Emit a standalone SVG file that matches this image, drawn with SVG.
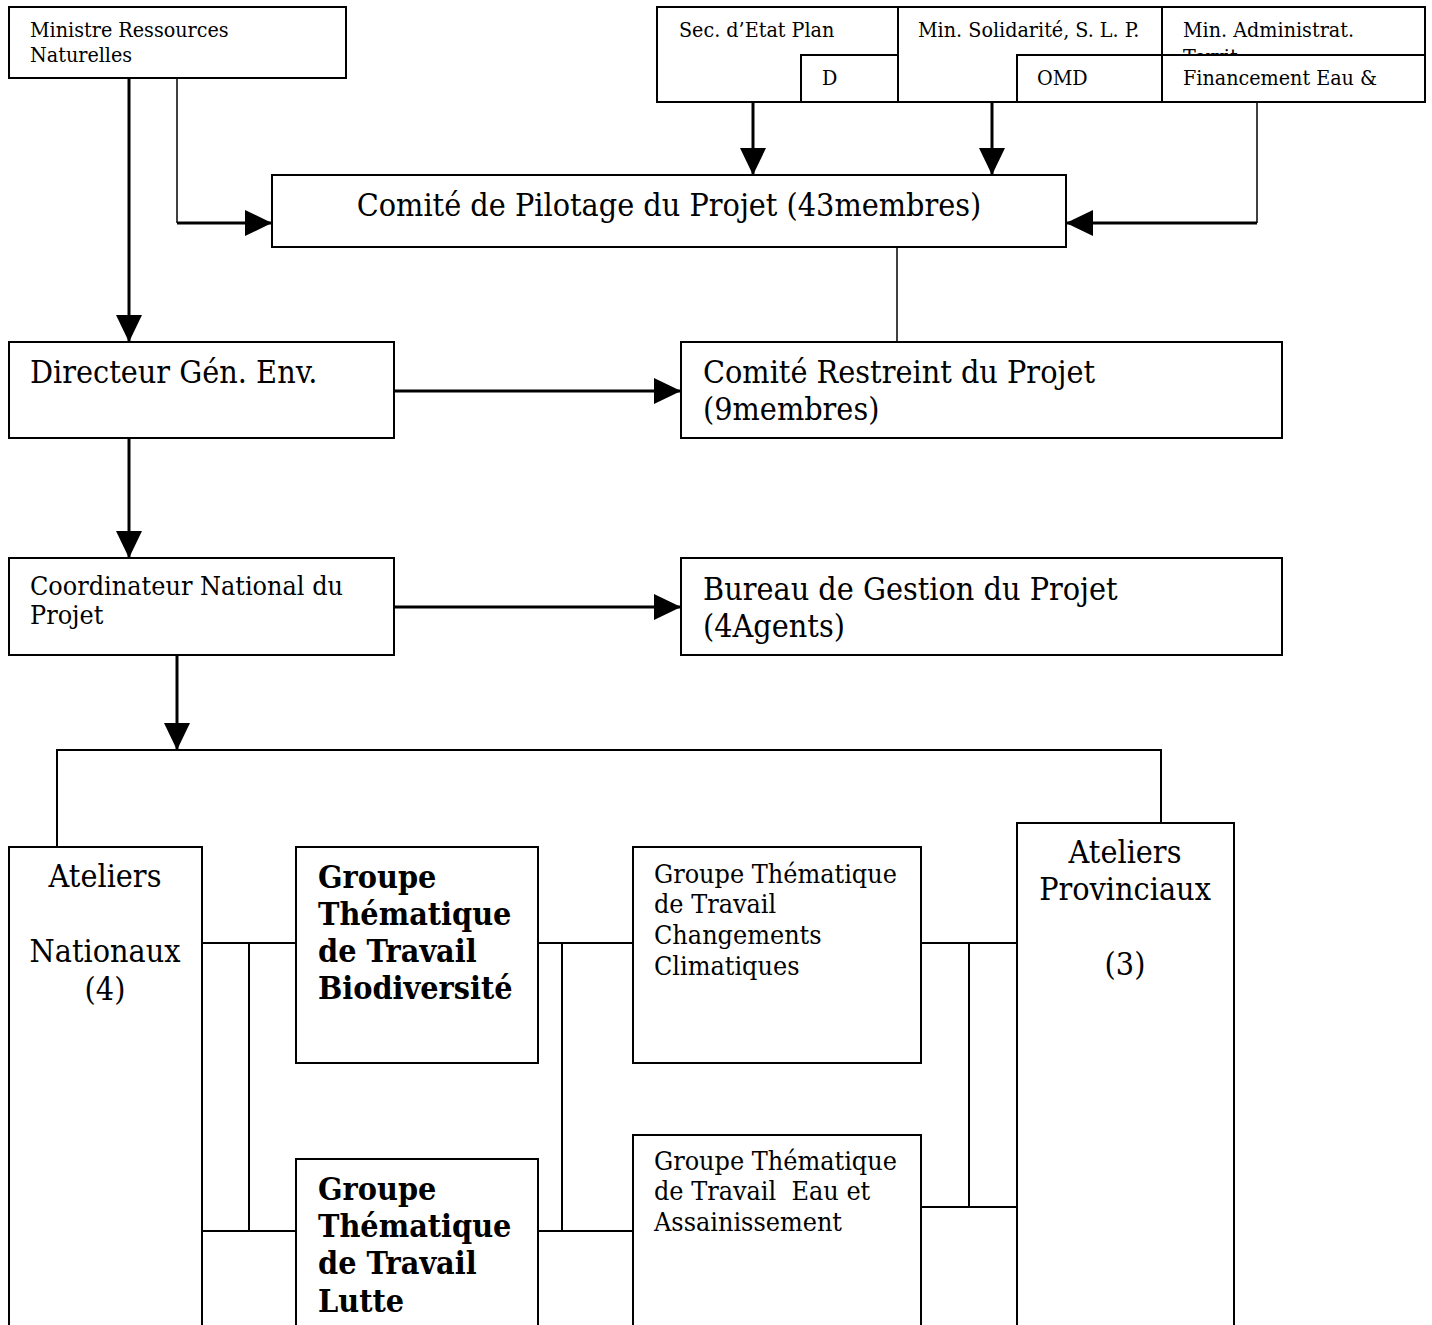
<svg xmlns="http://www.w3.org/2000/svg" width="1432" height="1325" viewBox="0 0 1432 1325">
<defs>
<marker id="ah" markerUnits="userSpaceOnUse" markerWidth="28" markerHeight="26" refX="27" refY="13" orient="auto" viewBox="0 0 28 26">
<path d="M0,0 L27,13 L0,26 z" fill="#000"/>
</marker>
<clipPath id="clipTop"><rect x="1162" y="7" width="263" height="48"/></clipPath>
<style>
text{font-family:"DejaVu Serif Condensed","DejaVu Serif","Liberation Serif",serif;font-stretch:condensed;fill:#000}
.box{fill:#fff;stroke:#000;stroke-width:2}
.s{font-size:21.3px}
.m{font-size:26.7px}
.l{font-size:32px}
.b{font-size:32px;font-weight:bold}
.c{text-anchor:middle}
.thick{stroke:#000;stroke-width:3;fill:none}
.thin{stroke:#000;stroke-width:1.5;fill:none}
.conn{stroke:#000;stroke-width:2;fill:none}
</style>
</defs>
<g id="connectors">
<path class="thick" d="M129,78 V342" marker-end="url(#ah)"/>
<path class="thin" d="M177,78 V223"/>
<path class="thick" d="M177,223 H272" marker-end="url(#ah)"/>
<path class="thick" d="M753,102 V175" marker-end="url(#ah)"/>
<path class="thick" d="M992,102 V175" marker-end="url(#ah)"/>
<path class="thin" d="M1257,102 V223"/>
<path class="thick" d="M1257,223 H1066" marker-end="url(#ah)"/>
<path class="thin" d="M897,247 V342"/>
<path class="thick" d="M394,391 H681" marker-end="url(#ah)"/>
<path class="thick" d="M129,438 V558" marker-end="url(#ah)"/>
<path class="thick" d="M394,607 H681" marker-end="url(#ah)"/>
<path class="thick" d="M177,655 V750" marker-end="url(#ah)"/>
<path class="conn" d="M57,847 V750 H1161 V823"/>
<path class="conn" d="M202,943 H296 M202,1231 H296 M249,943 V1231"/>
<path class="conn" d="M538,943 H633 M538,1231 H633 M562,943 V1231"/>
<path class="conn" d="M921,943 H1017 M921,1207 H1017 M969,943 V1207"/>
</g>
<g id="n-ministre">
<rect class="box" x="9" y="7" width="337" height="71"/>
<text class="s" x="30" y="37">Ministre Ressources</text>
<text class="s" x="30" y="62">Naturelles</text>
</g>
<g id="n-sec-etat">
<rect class="box" x="657" y="7" width="241" height="95"/>
<text class="s" x="679" y="37">Sec. d’Etat Plan</text>
</g>
<g id="n-min-solidarite">
<rect class="box" x="898" y="7" width="264" height="95"/>
<text class="s" x="918" y="37">Min. Solidarité, S. L. P.</text>
</g>
<g id="n-min-admin">
<rect class="box" x="1162" y="7" width="263" height="95"/>
<text class="s" x="1183" y="37">Min. Administrat.</text>
<text class="s" x="1183" y="64" clip-path="url(#clipTop)">Territ.</text>
</g>
<g id="n-d">
<rect class="box" x="801" y="55" width="97" height="47"/>
<text class="s" x="822" y="85">D</text>
</g>
<g id="n-omd">
<rect class="box" x="1017" y="55" width="145" height="47"/>
<text class="s" x="1037" y="85">OMD</text>
</g>
<g id="n-financement">
<rect class="box" x="1162" y="55" width="263" height="47"/>
<text class="s" x="1183" y="85">Financement Eau &amp;</text>
</g>
<g id="n-comite-pilotage">
<rect class="box" x="272" y="175" width="794" height="72"/>
<text class="l c" x="669" y="216">Comité de Pilotage du Projet (43membres)</text>
</g>
<g id="n-directeur">
<rect class="box" x="9" y="342" width="385" height="96"/>
<text class="l" x="30" y="383">Directeur Gén. Env.</text>
</g>
<g id="n-comite-restreint">
<rect class="box" x="681" y="342" width="601" height="96"/>
<text class="l" x="703" y="383">Comité Restreint du Projet</text>
<text class="l" x="703" y="420">(9membres)</text>
</g>
<g id="n-coordinateur">
<rect class="box" x="9" y="558" width="385" height="97"/>
<text class="m" x="30" y="595">Coordinateur National du</text>
<text class="m" x="30" y="624">Projet</text>
</g>
<g id="n-bureau">
<rect class="box" x="681" y="558" width="601" height="97"/>
<text class="l" x="703" y="600">Bureau de Gestion du Projet</text>
<text class="l" x="703" y="637">(4Agents)</text>
</g>
<g id="n-ateliers-nationaux">
<rect class="box" x="9" y="847" width="193" height="490"/>
<text class="l c" x="105" y="887">Ateliers</text>
<text class="l c" x="105" y="962">Nationaux</text>
<text class="l c" x="105" y="1000">(4)</text>
</g>
<g id="n-groupe-biodiversite">
<rect class="box" x="296" y="847" width="242" height="216"/>
<text class="b" x="318" y="888">Groupe</text>
<text class="b" x="318" y="925">Thématique</text>
<text class="b" x="318" y="962">de Travail</text>
<text class="b" x="318" y="999">Biodiversité</text>
</g>
<g id="n-groupe-lutte">
<rect class="box" x="296" y="1159" width="242" height="180"/>
<text class="b" x="318" y="1200">Groupe</text>
<text class="b" x="318" y="1237">Thématique</text>
<text class="b" x="318" y="1274">de Travail</text>
<text class="b" x="318" y="1312">Lutte</text>
</g>
<g id="n-groupe-climat">
<rect class="box" x="633" y="847" width="288" height="216"/>
<text class="m" x="654" y="883">Groupe Thématique</text>
<text class="m" x="654" y="913">de Travail</text>
<text class="m" x="654" y="944">Changements</text>
<text class="m" x="654" y="975">Climatiques</text>
</g>
<g id="n-groupe-eau">
<rect class="box" x="633" y="1135" width="288" height="200"/>
<text class="m" x="654" y="1170">Groupe Thématique</text>
<text class="m" x="654" y="1200" xml:space="preserve">de Travail  Eau et</text>
<text class="m" x="654" y="1231">Assainissement</text>
</g>
<g id="n-ateliers-provinciaux">
<rect class="box" x="1017" y="823" width="217" height="520"/>
<text class="l c" x="1125" y="863">Ateliers</text>
<text class="l c" x="1125" y="900">Provinciaux</text>
<text class="l c" x="1125" y="975">(3)</text>
</g>
</svg>
